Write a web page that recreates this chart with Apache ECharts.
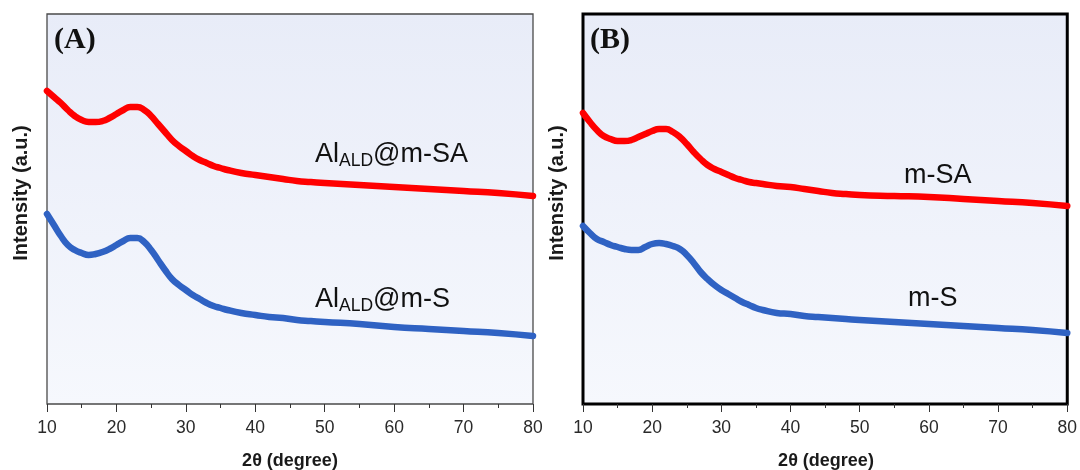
<!DOCTYPE html>
<html>
<head>
<meta charset="utf-8">
<script src="https://cdn.jsdelivr.net/npm/echarts@6/dist/echarts.min.js"></script>
<style>
  html, body { margin: 0; padding: 0; background: #ffffff; }
  #chart { width: 1080px; height: 470px; }
</style>
</head>
<body>
<div id="chart"></div>
<script>
// 2θ positions (degree) shared by every pattern
const twoTheta = [10, 11, 12, 13, 14, 15, 16, 17, 18, 19, 20, 21, 22, 23, 24, 25, 26, 27, 28, 29,
                  30, 31, 32, 33, 34, 35, 36, 38, 40, 42, 44, 46, 48, 50, 55, 60, 65, 70, 75, 80];

// Panel A: Al_ALD coated samples (offset intensities, a.u.)
const alSA = [313, 307, 301, 294, 288, 284, 282, 282, 283, 286, 290, 294, 297, 297, 294, 288, 280, 272, 264, 258,
              253, 248, 244, 241, 238, 236, 234, 231, 229, 227, 225, 223, 222, 221, 219, 217, 215, 213, 211, 208];
const alS  = [190, 179, 168, 159, 154, 151, 149, 150, 152, 155, 159, 163, 166, 166, 162, 154, 144, 134, 125, 119,
              114, 109, 105, 101, 98, 96, 94, 91, 89, 87, 86, 84, 83, 82, 80, 77, 75, 73, 71, 68];

// Panel B: bare supports (offset intensities, a.u.)
const mSA  = [291, 282, 274, 268, 265, 263, 263, 264, 267, 270, 273, 275, 275, 272, 267, 260, 252, 245, 239, 235,
              232, 229, 226, 224, 222, 221, 220, 218, 217, 215, 213, 211, 210, 209, 208, 207, 205, 203, 201, 198];
const mS   = [178, 171, 165, 162, 159, 157, 155, 154, 154, 157, 160, 161, 160, 158, 155, 149, 141, 132, 125, 119,
              114, 110, 106, 102, 99, 96, 94, 91, 90, 88, 87, 86, 85, 84, 82, 80, 78, 76, 74, 71];

const xTicks = [10, 20, 30, 40, 50, 60, 70, 80];

const RED = '#ff0000';
const BLUE = '#2f62c3';
const FONT = '"Liberation Sans", Arial, sans-serif';
const SERIF = '"Liberation Serif", "Times New Roman", serif';

const pair = (ys) => twoTheta.map((x, i) => [x, ys[i]]);

const panelBg = {
  type: 'linear', x: 0, y: 0, x2: 0, y2: 1,
  colorStops: [{ offset: 0, color: '#e8ecf8' }, { offset: 1, color: '#f6f8fd' }]
};

const grids = [
  { left: 47, width: 486, top: 14, height: 390, show: true, backgroundColor: panelBg,
    borderColor: '#4a4a4a', borderWidth: 1.3 },
  { left: 583, width: 485, top: 14, height: 390, show: true, backgroundColor: panelBg,
    borderColor: '#000000', borderWidth: 3 }
];

const makeX = (gi) => ({
  type: 'value', gridIndex: gi, min: 10, max: 80, interval: 10,
  axisLine: { show: false },
  axisTick: { show: true, inside: false, length: 8, lineStyle: { color: '#333', width: 1 } },
  minorTick: { show: true, splitNumber: 2, length: 4, lineStyle: { color: '#333', width: 1 } },
  splitLine: { show: false },
  axisLabel: { color: '#2a2a2a', fontFamily: FONT, fontSize: 17.5, margin: 15,
               formatter: (v) => xTicks.includes(v) ? String(v) : '' }
});

const makeY = (gi) => ({
  type: 'value', gridIndex: gi, min: 0, max: 390,
  axisLine: { show: false }, axisTick: { show: false }, axisLabel: { show: false },
  splitLine: { show: false }
});

const line = (gi, ys, color) => ({
  type: 'line', xAxisIndex: gi, yAxisIndex: gi, data: pair(ys),
  smooth: 0.5, showSymbol: false, silent: true,
  lineStyle: { color: color, width: 6.5, cap: 'round', join: 'round' }
});

// sample name with a subscript part
const rich = {
  n: { fontFamily: FONT, fontSize: 27, fill: '#111', color: '#111' },
  s: { fontFamily: FONT, fontSize: 17.5, fill: '#111', color: '#111', padding: [14, 0, 0, 0] }
};

const label = (x, y, content, withRich) => ({
  type: 'text', left: x, top: y, z: 10,
  style: Object.assign({ text: content, fontFamily: FONT, fontSize: 27, fill: '#111' },
                       withRich ? { rich: rich } : {})
});

const axisTitle = (x, y, text, rotated) => ({
  type: 'text', x: x, y: y, rotation: rotated ? Math.PI / 2 : 0, z: 10,
  style: { text: text, fontFamily: FONT, fontSize: rotated ? 20 : 18, fontWeight: 'bold',
           fill: '#1a1a1a', align: 'center', verticalAlign: 'middle' }
});

const option = {
  animation: false,
  backgroundColor: '#ffffff',
  grid: grids,
  xAxis: [makeX(0), makeX(1)],
  yAxis: [makeY(0), makeY(1)],
  series: [
    line(0, alSA, RED), line(0, alS, BLUE),
    line(1, mSA, RED), line(1, mS, BLUE)
  ],
  graphic: [
    { type: 'text', left: 54, top: 25, z: 10,
      style: { text: '(A)', fontFamily: SERIF, fontSize: 30, fontWeight: 'bold', fill: '#111' } },
    { type: 'text', left: 590, top: 25, z: 10,
      style: { text: '(B)', fontFamily: SERIF, fontSize: 30, fontWeight: 'bold', fill: '#111' } },
    label(315, 141, '{n|Al}{s|ALD}{n|@m-SA}', true),
    label(315, 286, '{n|Al}{s|ALD}{n|@m-S}', true),
    label(904, 162, 'm-SA', false),
    label(908, 285, 'm-S', false),
    axisTitle(21, 193, 'Intensity (a.u.)', true),
    axisTitle(557, 193, 'Intensity (a.u.)', true),
    axisTitle(290, 461, '2θ (degree)', false),
    axisTitle(826, 461, '2θ (degree)', false)
  ]
};

const chart = echarts.init(document.getElementById('chart'), null, { renderer: 'canvas' });
chart.setOption(option);
</script>
</body>
</html>
